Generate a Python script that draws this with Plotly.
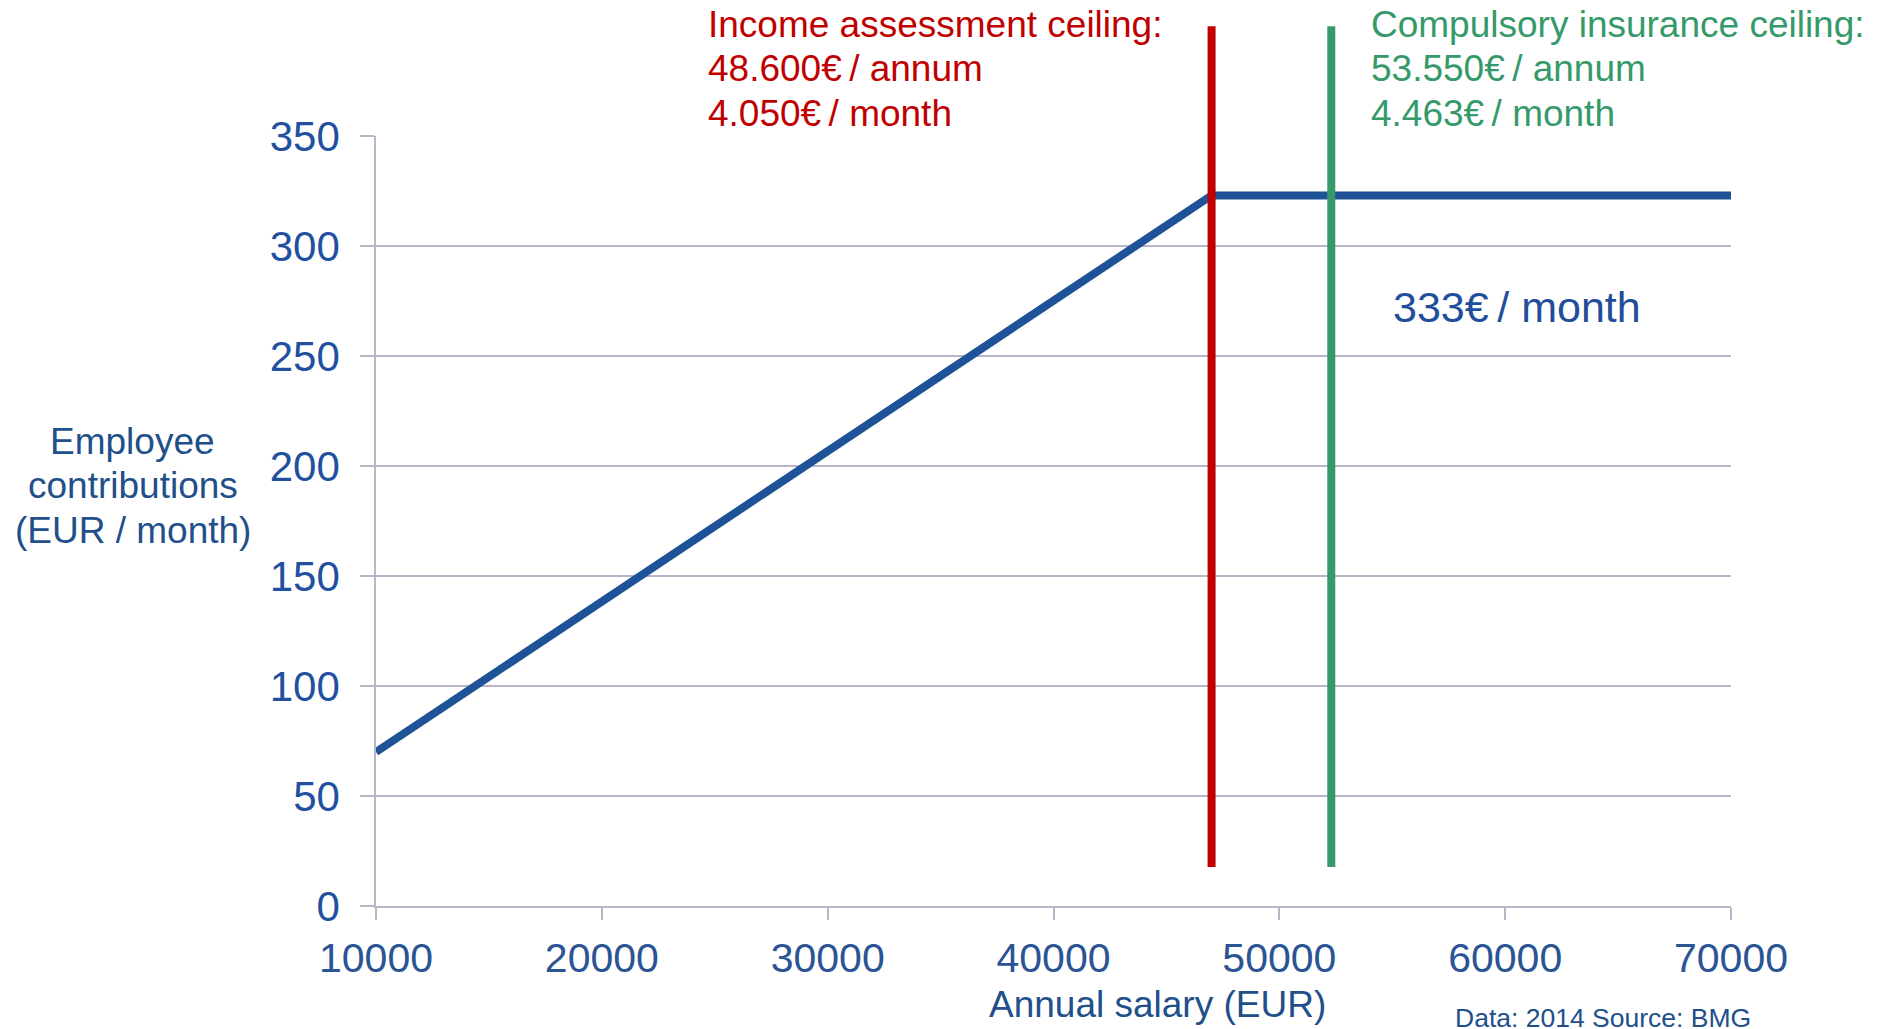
import plotly.graph_objects as go

# ---- data ----
salary = [10000, 47000, 70000]          # annual salary (EUR)
contribution = [70, 323, 323]           # employee contribution (EUR / month)
income_ceiling_x = 47000                # income assessment ceiling (drawn position)
compulsory_ceiling_x = 52300            # compulsory insurance ceiling (drawn position)
x_ticks = [10000, 20000, 30000, 40000, 50000, 60000, 70000]
y_ticks = [0, 50, 100, 150, 200, 250, 300, 350]

red_lines = ["Income assessment ceiling:", "48.600€\u2009/ annum", "4.050€\u2009/ month"]
green_lines = ["Compulsory insurance ceiling:", "53.550€\u2009/ annum", "4.463€\u2009/ month"]
ytitle_lines = ["Employee", "contributions", "(EUR / month)"]

FONT = "Liberation Sans, Arial, sans-serif"
BLUE = "#1F5296"
RED = "#C00000"
GREEN = "#36996A"
GRID = "#B6B6C8"

# page body has an 8px margin, so the figure is offset by 8px
W, H = 1875, 1021
L, T, R, B = 367.5, 127.7, 152, 123
PH = H - T - B

def py(pix):  # window pixel y -> paper y
    return (H - B - (pix - 8)) / PH

def px_x(pix):  # window pixel x -> paper x
    return (pix - 8 - L) / (W - L - R)

fig = go.Figure()
fig.add_trace(go.Scatter(
    x=salary, y=contribution, mode="lines",
    line=dict(color=BLUE, width=8), showlegend=False, hoverinfo="skip",
))

for xv, col in [(income_ceiling_x, RED), (compulsory_ceiling_x, GREEN)]:
    fig.add_shape(type="line", xref="x", yref="paper",
                  x0=xv, x1=xv, y0=py(867), y1=py(26),
                  line=dict(color=col, width=8), layer="above")

fig.update_layout(
    width=W, height=H,
    margin=dict(l=L, r=R, t=T, b=B),
    plot_bgcolor="white", paper_bgcolor="white",
    font=dict(family=FONT, color="#234F91"),
    showlegend=False,
)
fig.update_xaxes(
    range=[10000, 70000], tickvals=x_ticks, ticktext=[str(v) for v in x_ticks],
    showgrid=False, zeroline=False, showline=True, linecolor=GRID, linewidth=1.5,
    ticks="outside", ticklen=12, tickcolor=GRID, tickwidth=1.5,
    tickfont=dict(size=41, color="#2A5494", family=FONT),
    ticklabelstandoff=3,
)
fig.update_yaxes(
    range=[0, 350], tickvals=y_ticks, ticktext=[str(v) for v in y_ticks],
    showgrid=True, gridcolor=GRID, gridwidth=1.5, zeroline=False,
    showline=True, linecolor=GRID, linewidth=1.5,
    ticks="outside", ticklen=14, tickcolor=GRID, tickwidth=1.5,
    tickfont=dict(size=42, color="#2150A0", family=FONT),
    ticklabelstandoff=12,
)

ann = []
line_y = [24, 68.5, 113.5]
for txt, yy in zip(red_lines, line_y):
    ann.append(dict(text=txt, x=px_x(706), y=py(yy), xanchor="left", yanchor="middle",
                    font=dict(size=37, color=RED)))
for txt, yy in zip(green_lines, line_y):
    ann.append(dict(text=txt, x=px_x(1369), y=py(yy), xanchor="left", yanchor="middle",
                    font=dict(size=37, color=GREEN)))
for txt, yy in zip(ytitle_lines, [441, 485.5, 530]):
    ann.append(dict(text=txt, x=px_x(132), y=py(yy), xanchor="center", yanchor="middle",
                    font=dict(size=37, color="#214F8A")))
ann += [
    dict(text="333€\u2009/ month", x=px_x(1517), y=py(307), xanchor="center", yanchor="middle",
         font=dict(size=43, color="#1F4E9A")),
    dict(text="Annual salary (EUR)", x=px_x(1157), y=py(1005), xanchor="center", yanchor="middle",
         font=dict(size=37, color="#214F8A")),
    dict(text="Data: 2014 Source: BMG", x=px_x(1753), y=py(1018), xanchor="right", yanchor="middle",
         font=dict(size=26.5, color="#214F8A")),
]
for a in ann:
    fig.add_annotation(xref="paper", yref="paper", showarrow=False, **a)

fig.write_html("out.html", config={"displayModeBar": False})
